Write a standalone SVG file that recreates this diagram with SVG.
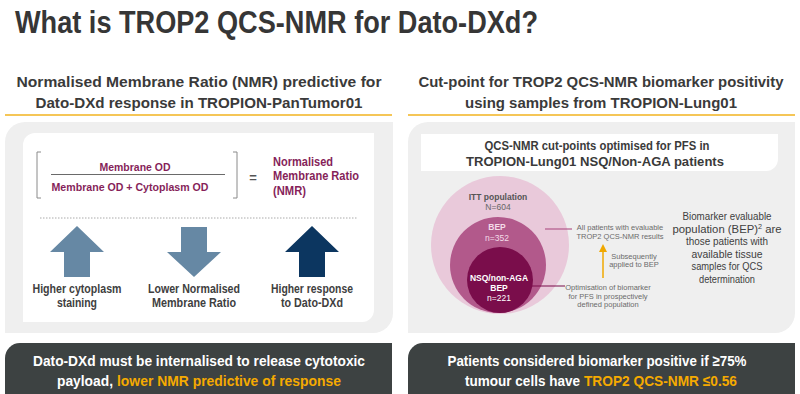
<svg xmlns="http://www.w3.org/2000/svg" width="800" height="394" viewBox="0 0 800 394">
<defs>
<style>
text{font-family:"Liberation Sans",Arial,sans-serif}
.title{font-size:31px;font-weight:bold;fill:#363636}
.sub{font-size:15.5px;font-weight:bold;fill:#3a3a3a;text-anchor:middle}
.panel{fill:#efefef}
.inner{fill:#ffffff}
.dark{fill:#3d4242}
.orule{stroke:#f2b31f;stroke-width:1.6}
.mar{font-size:10.5px;font-weight:bold;fill:#861f5a;text-anchor:middle}
.nmr{font-size:12.5px;font-weight:bold;fill:#861f5a}
.lab{font-size:12.5px;font-weight:bold;fill:#404040;text-anchor:middle}
.brk{fill:none;stroke:#8a8a8a;stroke-width:1}
.hdr{font-size:13px;font-weight:bold;fill:#3a3a3a;text-anchor:middle}
.small{font-size:7.5px;fill:#6b6b6b;text-anchor:middle}
.body{font-size:11px;fill:#404040;text-anchor:middle}
.ctxt{font-size:8.5px;text-anchor:middle}
.bot{font-size:15.5px;font-weight:bold;fill:#ffffff}
.hl{fill:#f5aa00}
</style>
<marker id="ah" markerWidth="8" markerHeight="8" refX="4" refY="4" orient="auto" markerUnits="userSpaceOnUse">
<path d="M0,0 L8,4 L0,8 Z" fill="#f0a800"/>
</marker>
</defs>
<rect width="800" height="394" fill="#ffffff"/>

<g id="title">
<text class="title" x="15" y="33" textLength="523" lengthAdjust="spacingAndGlyphs">What is TROP2 QCS-NMR for Dato-DXd?</text>
</g>

<g id="left-subtitle">
<text class="sub" x="199" y="87" textLength="365" lengthAdjust="spacingAndGlyphs">Normalised Membrane Ratio (NMR) predictive for</text>
<text class="sub" x="199" y="108" textLength="327" lengthAdjust="spacingAndGlyphs">Dato-DXd response in TROPION-PanTumor01</text>
<line class="orule" x1="5" y1="115" x2="392" y2="115"/>
</g>

<g id="right-subtitle">
<text class="sub" x="601" y="87" textLength="365" lengthAdjust="spacingAndGlyphs">Cut-point for TROP2 QCS-NMR biomarker positivity</text>
<text class="sub" x="601" y="108" textLength="272" lengthAdjust="spacingAndGlyphs">using samples from TROPION-Lung01</text>
<line class="orule" x1="408" y1="115" x2="795" y2="115"/>
</g>

<g id="left-panel">
<path class="panel" d="M25,122 H393 V313 A20,20 0 0 1 373,333 H5 V142 A20,20 0 0 1 25,122 Z"/>
<path class="inner" d="M35,133 H374 V310 A12,12 0 0 1 362,322 H23 V145 A12,12 0 0 1 35,133 Z"/>
</g>

<g id="formula">
<path class="brk" d="M41,152 H37 V198 H41"/>
<path class="brk" d="M233,152 H237 V198 H233"/>
<text class="mar" x="135" y="171" textLength="71" lengthAdjust="spacingAndGlyphs">Membrane OD</text>
<line x1="51" y1="174.5" x2="225" y2="174.5" stroke="#6a6a6a" stroke-width="1"/>
<text class="mar" x="130" y="191" textLength="157" lengthAdjust="spacingAndGlyphs">Membrane OD + Cytoplasm OD</text>
<text x="253" y="182" font-size="13" font-weight="bold" fill="#555" text-anchor="middle">=</text>
<text class="nmr" x="273" y="166" textLength="60" lengthAdjust="spacingAndGlyphs">Normalised</text>
<text class="nmr" x="273" y="180" textLength="86" lengthAdjust="spacingAndGlyphs">Membrane Ratio</text>
<text class="nmr" x="273" y="195" textLength="33" lengthAdjust="spacingAndGlyphs">(NMR)</text>
<line x1="40" y1="218" x2="357" y2="218" stroke="#aaaaaa" stroke-width="1" stroke-dasharray="1.5,1.5"/>
</g>

<g id="arrow-cytoplasm">
<polygon points="77,226 104,252 90,252 90,277 64,277 64,252 50,252" fill="#6688a4"/>
<text class="lab" x="77" y="293" textLength="89" lengthAdjust="spacingAndGlyphs">Higher cytoplasm</text>
<text class="lab" x="77" y="307" textLength="40" lengthAdjust="spacingAndGlyphs">staining</text>
</g>

<g id="arrow-nmr">
<polygon points="181,227 207,227 207,252 221,252 194,277 167,252 181,252" fill="#6688a4"/>
<text class="lab" x="194" y="293" textLength="92" lengthAdjust="spacingAndGlyphs">Lower Normalised</text>
<text class="lab" x="194" y="307" textLength="84" lengthAdjust="spacingAndGlyphs">Membrane Ratio</text>
</g>

<g id="arrow-response">
<polygon points="312,226 339,252 325,252 325,277 299,277 299,252 285,252" fill="#0c3660"/>
<text class="lab" x="312" y="293" textLength="82" lengthAdjust="spacingAndGlyphs">Higher response</text>
<text class="lab" x="312" y="307" textLength="62" lengthAdjust="spacingAndGlyphs">to Dato-DXd</text>
</g>

<g id="right-panel">
<path class="panel" d="M428,122 H795 V313 A20,20 0 0 1 775,333 H408 V142 A20,20 0 0 1 428,122 Z"/>
<path class="inner" d="M421,134 H778 V159 A12,12 0 0 1 766,171 H421 Z"/>
<text class="hdr" x="597" y="150" textLength="225" lengthAdjust="spacingAndGlyphs">QCS-NMR cut-points optimised for PFS in</text>
<text class="hdr" x="595" y="166" textLength="258" lengthAdjust="spacingAndGlyphs">TROPION-Lung01 NSQ/Non-AGA patients</text>
</g>

<g id="itt">
<circle cx="500" cy="245" r="69" fill="#e9c9da"/>
<text class="ctxt" x="498" y="200" font-weight="bold" fill="#555555">ITT population</text>
<text class="ctxt" x="498" y="210" fill="#666666">N=604</text>
</g>

<g id="bep">
<circle cx="498" cy="265" r="48" fill="#b2598b"/>
<text class="ctxt" x="497" y="230" font-weight="bold" fill="#f4dbe8">BEP</text>
<text class="ctxt" x="497" y="241" fill="#f4dbe8">n=352</text>
</g>

<g id="nsq">
<circle cx="500" cy="280" r="33" fill="#7a0d4b"/>
<text class="ctxt" x="499" y="281" font-weight="bold" fill="#ffffff">NSQ/non-AGA</text>
<text class="ctxt" x="499" y="291" font-weight="bold" fill="#ffffff">BEP</text>
<text class="ctxt" x="499" y="301" fill="#ffffff">n=221</text>
</g>

<g id="connectors">
<line x1="545" y1="229" x2="572" y2="229" stroke="#b2598b" stroke-width="1.2"/>
<line x1="532" y1="286" x2="565" y2="286" stroke="#7a0d4b" stroke-width="1.2"/>
<line x1="603" y1="278" x2="603" y2="248" stroke="#f0a800" stroke-width="1.5" marker-end="url(#ah)"/>
</g>

<g id="bep-note">
<text class="small" x="620" y="230">All patients with evaluable</text>
<text class="small" x="620" y="239">TROP2 QCS-NMR results</text>
</g>

<g id="applied-note">
<text class="small" x="634" y="259">Subsequently</text>
<text class="small" x="634" y="267">applied to BEP</text>
</g>

<g id="optimisation-note">
<text class="small" x="608" y="290">Optimisation of biomarker</text>
<text class="small" x="608" y="299">for PFS in prospectively</text>
<text class="small" x="608" y="307">defined population</text>
</g>

<g id="bep-definition">
<text class="body" x="727" y="220" textLength="89" lengthAdjust="spacingAndGlyphs">Biomarker evaluable</text>
<text class="body" x="727" y="232.5" textLength="109" lengthAdjust="spacingAndGlyphs">population (BEP)<tspan font-size="7" dy="-4">2</tspan><tspan dy="4"> are</tspan></text>
<text class="body" x="727" y="245" textLength="82" lengthAdjust="spacingAndGlyphs">those patients with</text>
<text class="body" x="727" y="257.5" textLength="71" lengthAdjust="spacingAndGlyphs">available tissue</text>
<text class="body" x="727" y="270" textLength="71" lengthAdjust="spacingAndGlyphs">samples for QCS</text>
<text class="body" x="727" y="282.5" textLength="56" lengthAdjust="spacingAndGlyphs">determination</text>
</g>

<g id="left-conclusion">
<path class="dark" d="M20,343 H392 V394 H5 V358 A15,15 0 0 1 20,343 Z"/>
<text class="bot" x="199" y="366" text-anchor="middle" textLength="332" lengthAdjust="spacingAndGlyphs">Dato-DXd must be internalised to release cytotoxic</text>
<text class="bot" x="57" y="386" textLength="56" lengthAdjust="spacingAndGlyphs">payload,</text>
<text class="bot hl" x="117" y="386" textLength="224" lengthAdjust="spacingAndGlyphs">lower NMR predictive of response</text>
</g>

<g id="right-conclusion">
<path class="dark" d="M423,343 H795 V394 H408 V358 A15,15 0 0 1 423,343 Z"/>
<text class="bot" x="597" y="366" text-anchor="middle" textLength="299" lengthAdjust="spacingAndGlyphs">Patients considered biomarker positive if ≥75%</text>
<text class="bot" x="465" y="386" textLength="115" lengthAdjust="spacingAndGlyphs">tumour cells have</text>
<text class="bot hl" x="584" y="386" textLength="153" lengthAdjust="spacingAndGlyphs">TROP2 QCS-NMR ≤0.56</text>
</g>
</svg>
